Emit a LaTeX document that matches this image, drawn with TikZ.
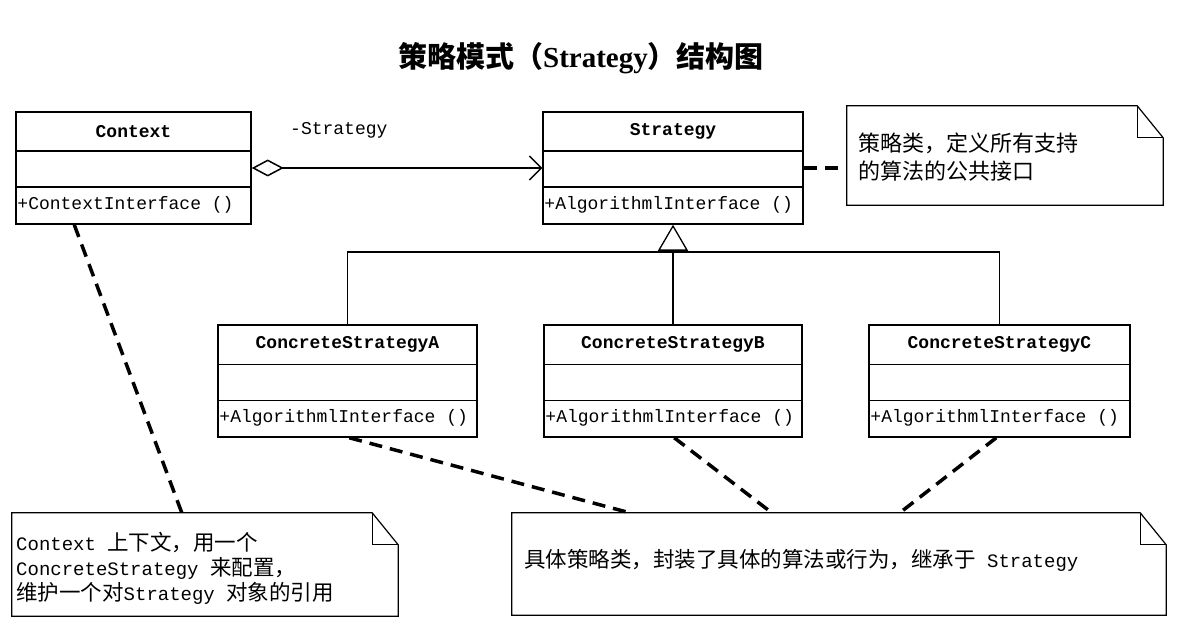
\documentclass[tikz,border=0pt]{standalone}
\usepackage{fontspec}
\setmainfont{Liberation Serif}
\setmonofont{Liberation Mono}
\newfontfamily\cjk{Noto Sans CJK SC}
\usetikzlibrary{arrows.meta,calc,fit}
\newcommand\zh[1]{{\cjk\fontsize{21.5}{25}\selectfont #1}}
\tikzset{
  cbox/.style={draw, line width=1.5pt, minimum height=112pt, inner sep=0pt},
  ctitle/.style={font=\fontsize{18}{20}\selectfont\ttfamily\bfseries, inner sep=0pt},
  cmeth/.style={font=\fontsize{18}{20}\selectfont\ttfamily, inner sep=2pt},
  notebox/.style={inner sep=0pt},
  noteline/.style={line width=1.2pt, line join=miter},
  notetext/.style={font=\fontsize{19}{25}\selectfont\ttfamily, align=left, inner sep=0pt, anchor=west},
  anchorlink/.style={line width=3.5pt, dash pattern=on 13pt off 8pt},
  inh/.style={line width=1.2pt},
}
\newcommand\umlclass[6]{%
  \node[cbox, minimum width=#4] (#1) at (#2,#3) {};
  \draw[line width=1.5pt] ($(#1.north west)+(0,40)$) -- ($(#1.north east)+(0,40)$);
  \draw[line width=1.5pt] ($(#1.north west)+(0,76)$) -- ($(#1.north east)+(0,76)$);
  \node[ctitle] (#1-name) at ($(#1.north)+(0,20)$) {#5};
  \node[cmeth, anchor=west] (#1-op) at ($(#1.north west)+(0,94)$) {#6};
}
\newcommand\umlnote[5]{%
  \coordinate (#1-nw) at (#2,#3);
  \coordinate (#1-se) at (#4,#5);
  \node[notebox, fit=(#1-nw)(#1-se)] (#1) {};
  \draw[noteline] (#1.north west) -- ($(#1.north east)+(-26,0)$) -- ($(#1.north east)+(0,32)$)
     -- (#1.south east) -- (#1.south west) -- cycle;
  \draw[noteline] ($(#1.north east)+(-26,0)$) -- ($(#1.north east)+(-26,32)$) -- ($(#1.north east)+(0,32)$);
}
\begin{document}
\begin{tikzpicture}[x=1pt,y=-1pt]
\useasboundingbox (0,0) rectangle (1186,639);

\node[font=\fontsize{29}{32}\selectfont\bfseries] (title) at (581,58)
  {{\cjk 策略模式（}Strategy{\cjk ）结构图}};

\umlclass{ctx}{133.5}{168}{235}{Context}{+ContextInterface ()}
\umlclass{str}{673}{168}{260}{Strategy}{+AlgorithmlInterface ()}
\umlclass{csa}{347.5}{381}{259}{ConcreteStrategyA}{+AlgorithmlInterface ()}
\umlclass{csb}{673}{381}{258}{ConcreteStrategyB}{+AlgorithmlInterface ()}
\umlclass{csc}{999.5}{381}{261}{ConcreteStrategyC}{+AlgorithmlInterface ()}

% aggregation
\draw[line width=1.2pt, {Diamond[open,length=32pt,width=17pt,line width=1.5pt]}-{Straight Barb[length=12pt,width=24pt,line width=1.3pt]}]
  (ctx.east) -- (str.west);
\node[cmeth, anchor=west] (role) at (288,130) {-Strategy};

% inheritance
\coordinate (busy) at (0,252);
\draw[inh, -{Triangle[open,length=26pt,width=30pt,line width=1.3pt]}] (csb.north) -- (str.south);
\draw[inh] (csa.north) -- (csa.north |- busy) -- (csc.north |- busy) -- (csc.north);

% notes
\umlnote{n1}{847}{106}{1163}{205}
\node[notetext, font=\fontsize{22}{28}\selectfont\cjk] (n1-text) at (858,157)
  {策略类，定义所有支持\\的算法的公共接口};
\umlnote{n2}{12}{513}{398}{616}
\node[notetext] (n2-text) at (16,568)
  {Context \zh{上下文，用一个}\\ConcreteStrategy \zh{来配置，}\\\zh{维护一个对}Strategy \zh{对象的引用}};
\umlnote{n3}{512}{513}{1166}{615}
\node[notetext] (n3-text) at (524,560)
  {\zh{具体策略类，封装了具体的算法或行为，继承于} Strategy};

% note links
\draw[anchorlink] (str.east) -- (str.east -| n1.west);
\draw[anchorlink] ($(ctx.south west)+(59,0)$) -- ($(n2.north west)+(170,0)$);
\draw[anchorlink] ($(csa.south west)+(132,0)$) -- ($(n3.north west)+(118,0)$);
\draw[anchorlink] ($(csb.south west)+(131,0)$) -- ($(n3.north west)+(260,0)$);
\draw[anchorlink] ($(csc.south west)+(128,0)$) -- ($(n3.north west)+(388,0)$);
\end{tikzpicture}
\end{document}
